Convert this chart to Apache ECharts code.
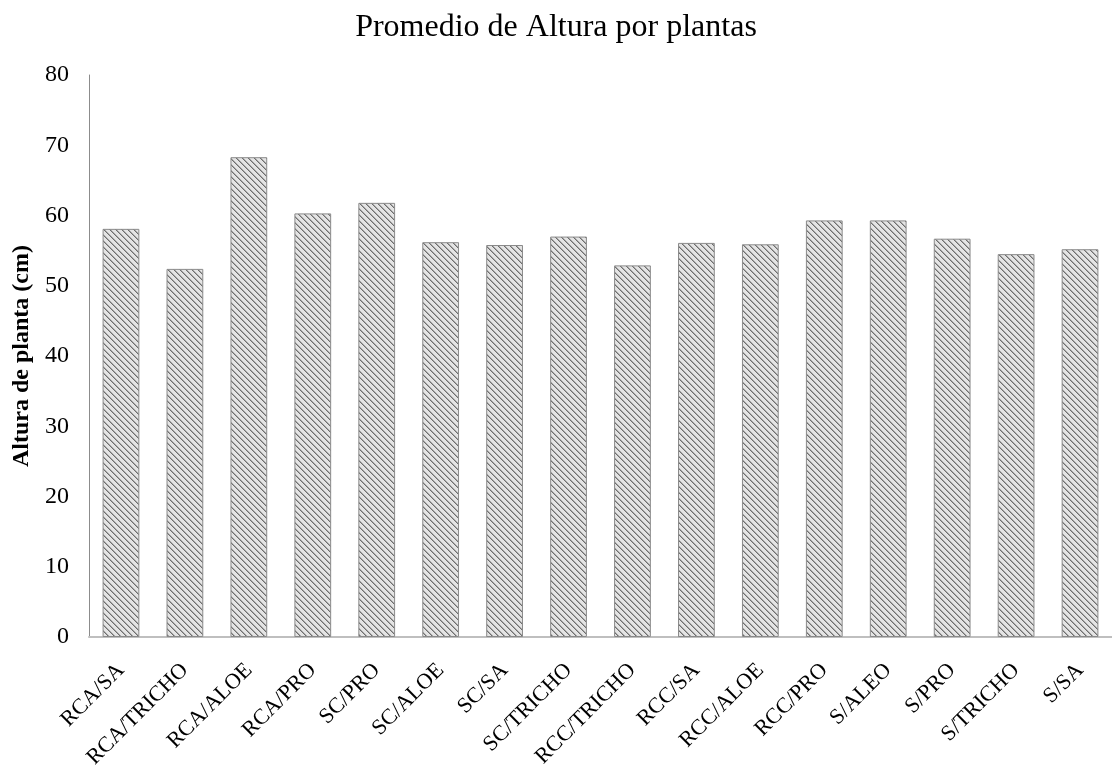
<!DOCTYPE html>
<html><head><meta charset="utf-8">
<script src="https://cdn.jsdelivr.net/npm/echarts@6/dist/echarts.min.js"></script>
<style>html,body{margin:0;padding:0;background:#fff}#c{width:1112px;height:772px}</style>
</head><body><div id="c"></div>
<script>
const categories = ['RCA/SA','RCA/TRICHO','RCA/ALOE','RCA/PRO','SC/PRO','SC/ALOE','SC/SA','SC/TRICHO','RCC/TRICHO','RCC/SA','RCC/ALOE','RCC/PRO','S/ALEO','S/PRO','S/TRICHO','S/SA'];
const alturas = [58.1, 52.4, 68.3, 60.3, 61.8, 56.2, 55.8, 57.0, 52.9, 56.1, 55.9, 59.3, 59.3, 56.7, 54.5, 55.2];

const pc = document.createElement('canvas');
pc.width = 6; pc.height = 6;
const g = pc.getContext('2d');
g.fillStyle = '#e4e4e4'; g.fillRect(0,0,6,6);
for (let i = 0; i < 6; i++) {
  g.fillStyle = '#6e6e6e'; g.fillRect(i, i, 1, 1);
  g.fillStyle = '#a8a8a8'; g.fillRect((i+1)%6, i, 1, 1);
}

const font = '"Liberation Serif", "Times New Roman", serif';
const chart = echarts.init(document.getElementById('c'), null, {renderer:'canvas'});
chart.setOption({
  animation: false,
  backgroundColor: '#fff',
  title: { text: 'Promedio de Altura por plantas', left: 'center', top: 7,
    textStyle: { fontFamily: font, fontSize: 32, fontWeight: 'normal', color: '#000' } },
  grid: { left: 89, width: 1029, top: 75, bottom: 135, containLabel: false },
  xAxis: { type: 'category', data: categories,
    axisLine: { show: true, lineStyle: { color: '#bfbfbf', width: 2 } },
    axisTick: { show: false },
    axisLabel: { rotate: 45, interval: 0, margin: 30, fontFamily: font, fontSize: 22, color: '#000' } },
  yAxis: { type: 'value', min: 0, max: 80, interval: 10,
    name: 'Altura de planta (cm)', nameLocation: 'middle', nameGap: 55,
    nameTextStyle: { fontFamily: font, fontSize: 24, fontWeight: 'bold', color: '#000' },
    axisLine: { show: true, lineStyle: { color: '#8c8c8c', width: 1 } },
    axisTick: { show: false },
    splitLine: { show: false },
    axisLabel: { fontFamily: font, fontSize: 24, color: '#000', margin: 20 } },
  series: [{ type: 'bar', data: alturas, barCategoryGap: '42.5%',
    itemStyle: { color: { image: pc, repeat: 'repeat' }, borderColor: '#8a8a8a', borderWidth: 1 } }]
});
</script></body></html>
